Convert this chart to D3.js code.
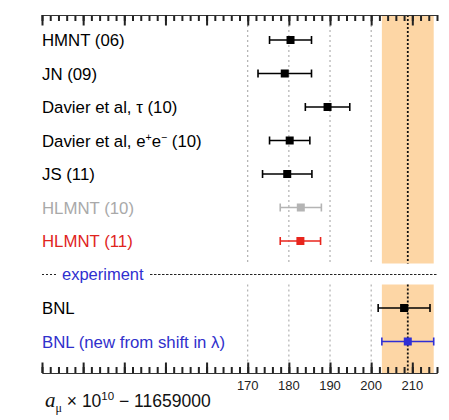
<!DOCTYPE html>
<html>
<head>
<meta charset="utf-8">
<script src="https://cdn.jsdelivr.net/npm/d3@7"></script>
<style>
  html, body { margin: 0; padding: 0; background: #fff; }
  svg { display: block; font-family: "Liberation Sans", Arial, Helvetica, sans-serif; }
</style>
</head>
<body>
<svg id="chart" width="449" height="420"></svg>
<script>
// Determinations of the muon anomaly, a_mu x 10^10 - 11659000
const labels = ["HMNT (06)", "JN (09)", "Davier et al, τ (10)", "Davier et al, e+e- (10)",
                "JS (11)", "HLMNT (10)", "HLMNT (11)", "BNL", "BNL (new from shift in λ)"];
const rows   = [0, 1, 2, 3, 4, 5, 6, 8, 9];
const values = [180.4, 179.0, 189.4, 180.2, 179.6, 182.9, 182.8, 208.0, 208.9];
const errors = [5.1, 6.5, 5.4, 4.9, 6.0, 5.0, 4.9, 6.3, 6.3];
const colors = ["#000", "#000", "#000", "#000", "#000", "#b4b4b4", "#e8251d", "#000", "#2f2fd6"];
const textColors = ["#000", "#000", "#000", "#000", "#000", "#a9a9a9", "#e0241d", "#000", "#3030cc"];

const band = {centre: 208.9, half: 6.3};
const gridValues = [170, 180, 190, 200];
const tickLabels = [170, 180, 190, 200, 210];
const separatorRow = 7;

const svg = d3.select("#chart");
const x = d3.scaleLinear().domain([120, 216]).range([42, 437]);
const y = d3.scaleLinear().domain([0, 9]).range([40, 341.5]);

const topY = 15, bottomY = 373;
const sepY = y(separatorRow);
const spans = [[topY, sepY - 11], [sepY + 10, bottomY]];

// uncertainty band of the new BNL value
spans.forEach(([a, b]) => {
  svg.append("rect")
    .attr("x", x(band.centre - band.half))
    .attr("width", x(band.centre + band.half) - x(band.centre - band.half))
    .attr("y", a).attr("height", b - a)
    .attr("fill", "#fdd6a5");
});

// dotted reference lines
spans.forEach(([a, b]) => {
  svg.selectAll(null).data(gridValues).enter().append("line")
    .attr("x1", d => x(d)).attr("x2", d => x(d))
    .attr("y1", a).attr("y2", b)
    .attr("stroke", "#a0a0a0").attr("stroke-width", 1)
    .attr("stroke-dasharray", "2,3");
  svg.append("line")
    .attr("x1", x(band.centre)).attr("x2", x(band.centre))
    .attr("y1", a).attr("y2", b)
    .attr("stroke", "#111").attr("stroke-width", 1.8)
    .attr("stroke-dasharray", "2,2");
});

// axes: major ticks every 10, minor every 2
const minorTicks = d3.range(120, 217, 2);
const majorTicks = d3.range(120, 211, 10);

function styleAxis(g) {
  g.select(".domain").attr("stroke", "#333").attr("stroke-width", 1.2);
  g.selectAll(".tick line").attr("stroke", "#222").attr("stroke-width", 2);
}
// top axis (no labels)
svg.append("g").attr("transform", `translate(0,${topY})`)
  .call(d3.axisBottom(x).tickValues(minorTicks).tickSize(6).tickSizeOuter(0).tickFormat(""))
  .call(styleAxis);
svg.append("g").attr("transform", `translate(0,${topY})`)
  .call(d3.axisBottom(x).tickValues(majorTicks).tickSize(10.5).tickSizeOuter(0).tickFormat(""))
  .call(styleAxis);
// bottom axis
svg.append("g").attr("transform", `translate(0,${bottomY})`)
  .call(d3.axisTop(x).tickValues(minorTicks).tickSize(6).tickSizeOuter(0).tickFormat(""))
  .call(styleAxis);
svg.append("g").attr("transform", `translate(0,${bottomY})`)
  .call(d3.axisTop(x).tickValues(majorTicks).tickSize(10.5).tickSizeOuter(0).tickFormat(""))
  .call(styleAxis);
svg.append("g").selectAll("text").data(tickLabels).enter().append("text")
  .attr("x", d => x(d)).attr("y", 390)
  .attr("text-anchor", "middle").attr("font-size", 13).attr("fill", "#222")
  .text(d => d);

// separator between theory and experiment
svg.append("line").attr("x1", 42).attr("x2", 56).attr("y1", sepY).attr("y2", sepY)
  .attr("stroke", "#222").attr("stroke-width", 1).attr("stroke-dasharray", "2,2");
svg.append("line").attr("x1", 150).attr("x2", 437).attr("y1", sepY).attr("y2", sepY)
  .attr("stroke", "#222").attr("stroke-width", 1).attr("stroke-dasharray", "2.5,1.5");
svg.append("text").attr("x", 62).attr("y", sepY + 5.5)
  .attr("font-size", 16.5).attr("fill", "#2f2fd0").text("experiment");

// row labels
const lab = svg.selectAll(".lab").data(labels).enter().append("text")
  .attr("class", "lab")
  .attr("x", 42).attr("y", (d, i) => y(rows[i]) + 6)
  .attr("font-size", 16.8).attr("fill", (d, i) => textColors[i]);
lab.each(function(d) {
  const t = d3.select(this);
  if (d.includes("e+e-")) {
    t.append("tspan").text("Davier et al, e");
    t.append("tspan").attr("dy", -6).attr("font-size", 10.5).text("+");
    t.append("tspan").attr("dy", 6).text("e");
    t.append("tspan").attr("dy", -6).attr("font-size", 10.5).text("−");
    t.append("tspan").attr("dy", 6).text(" (10)");
  } else {
    t.text(d);
  }
});

// error bars and central values
const pts = svg.selectAll(".pt").data(values).enter().append("g")
  .attr("class", "pt")
  .attr("transform", (d, i) => `translate(0,${y(rows[i])})`);
pts.append("line")
  .attr("x1", (d, i) => x(d - errors[i])).attr("x2", (d, i) => x(d + errors[i]))
  .attr("stroke", (d, i) => colors[i]).attr("stroke-width", 1.6);
pts.append("line")
  .attr("x1", (d, i) => x(d - errors[i])).attr("x2", (d, i) => x(d - errors[i]))
  .attr("y1", -4).attr("y2", 4)
  .attr("stroke", (d, i) => colors[i]).attr("stroke-width", 1.6);
pts.append("line")
  .attr("x1", (d, i) => x(d + errors[i])).attr("x2", (d, i) => x(d + errors[i]))
  .attr("y1", -4).attr("y2", 4)
  .attr("stroke", (d, i) => colors[i]).attr("stroke-width", 1.6);
pts.append("rect")
  .attr("x", d => x(d) - 4).attr("y", -4).attr("width", 8).attr("height", 8)
  .attr("fill", (d, i) => colors[i]);

// axis title
const title = svg.append("text").attr("x", 45).attr("y", 407)
  .attr("font-size", 17.5).attr("fill", "#111");
title.append("tspan").attr("font-family", "'Liberation Serif', 'Times New Roman', serif")
  .attr("font-style", "italic").attr("font-size", 21).text("a");
title.append("tspan").attr("dy", 5).attr("font-size", 12)
  .attr("font-family", "'Liberation Serif', 'Times New Roman', serif").text("μ");
title.append("tspan").attr("dy", -5).text(" × 10");
title.append("tspan").attr("dy", -7).attr("font-size", 11.5).text("10");
title.append("tspan").attr("dy", 7).text(" − 11659000");
</script>
</body>
</html>
